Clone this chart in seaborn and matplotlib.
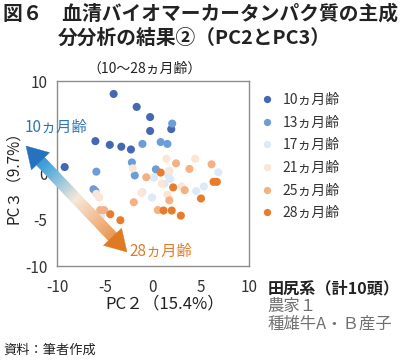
import numpy as np
import pandas as pd
import matplotlib
matplotlib.use("Agg")
import matplotlib.pyplot as plt
from matplotlib.patches import Polygon
import matplotlib.colors as mcolors
import seaborn as sns

# ---- data ----
ages = ["10ヵ月齢", "13ヵ月齢", "17ヵ月齢", "21ヵ月齢", "25ヵ月齢", "28ヵ月齢"]
age10_x = [-4.1, -1.7, -0.3, -0.3, 1.9, -6.0, -4.5, -3.3, -2.3, -9.2]
age10_y = [8.6, 7.2, 6.1, 4.6, 4.8, 3.5, 3.1, 2.9, 2.6, 0.7]
age13_x = [2.0, -1.1, 0.8, 1.5, -2.2, -1.9, -5.9, -6.2, 0.3, -6.0]
age13_y = [5.4, 3.2, 3.4, 3.2, 1.2, -0.2, 0.2, -1.7, 0.45, -1.9]
age17_x = [6.8, 0.1, 1.8, 1.2, -0.1, 5.3, 4.5, -5.4, -1.1, 1.6]
age17_y = [0.13, -0.45, -0.6, -1.1, -2.6, -1.4, -1.9, -4.6, -2.0, -0.2]
age21_x = [-5.9, -2.1, 1.4, -1.2, 4.4, 1.5, -5.6, 0.9, 1.7, 3.0]
age21_y = [-2.2, 0.56, 1.6, -2.1, 1.6, -2.3, -2.6, -1.1, 0.3, -1.4]
age25_x = [3.8, 6.1, -0.7, 2.4, 3.3, -2.0, 1.7, 0.5, -5.5, -5.1]
age25_y = [0.5, 1.0, -0.4, 1.1, -1.8, -3.1, -2.9, -3.95, -3.95, -3.95]
age28_x = [0.8, 2.1, 5.0, 6.3, 6.65, 1.1, 1.95, 2.9, -4.45, -3.4]
age28_y = [0.1, -1.5, -2.7, -0.9, -0.9, -4.0, -4.0, -4.55, -4.4, -5.05]

x_ticks = [-10, -5, 0, 5, 10]
x_ticklabels = ["-10", "-5", "0", "5", "10"]
y_ticks = [-10, -5, 0, 5, 10]
y_ticklabels = ["-10", "-5", "0", "", "10"]  # "5" is hidden behind the arrow label

xs = [age10_x, age13_x, age17_x, age21_x, age25_x, age28_x]
ys = [age10_y, age13_y, age17_y, age21_y, age25_y, age28_y]
colors = ["#4468B2", "#6C9DD6", "#DCE9F6", "#FBE6D6", "#F3B184", "#E87B2C"]

rows = []
for a, xx, yy in zip(ages, xs, ys):
    for x, y in zip(xx, yy):
        rows.append({"PC2": x, "PC3": y, "age": a})
df = pd.DataFrame(rows)

sns.set_theme(style="white")
plt.rcParams['font.family'] = ['Noto Sans CJK JP', 'DejaVu Sans']

fig = plt.figure(figsize=(4.0, 3.6), dpi=100)
ax = fig.add_axes([0.1425, 0.261, 0.48, 0.514])

sns.scatterplot(data=df, x="PC2", y="PC3", hue="age", hue_order=ages,
                palette=dict(zip(ages, colors)), s=34, linewidth=0,
                ax=ax, legend=True, zorder=3)

ax.set_xlim(-10, 10)
ax.set_ylim(-10, 10)
ax.set_xticks(x_ticks)
ax.set_yticks(y_ticks)
ax.set_xticklabels(x_ticklabels)
ax.set_yticklabels(y_ticklabels)
ax.tick_params(axis="x", length=0, pad=9, labelsize=11, labelcolor="#333333")
ax.tick_params(axis="y", length=0, pad=7, labelsize=11, labelcolor="#333333")
for sp in ax.spines.values():
    sp.set_color("#8C8C8C")
    sp.set_linewidth(1.0)
ax.set_xlabel("PC２（15.4%）", fontsize=12, color="#222222")
ax.xaxis.label.set_verticalalignment("center")
ax.xaxis.set_label_coords(0.5625, -0.202)
ax.set_ylabel("PC３（9.7%）", fontsize=11, color="#222222", labelpad=2)

sns.move_legend(ax, "upper left", bbox_to_anchor=(0.995, 0.965), frameon=False,
                title=None, fontsize=10, labelspacing=0.62, handletextpad=0.1,
                markerscale=0.9, borderaxespad=0)
for t in ax.get_legend().get_texts():
    t.set_color("#333333")

# ---- titles and notes ----
fig.text(0.008, 0.962, "図６　血清バイオマーカータンパク質の主成", fontsize=14.2,
         fontweight="bold", color="#222222", va="center", ha="left")
fig.text(0.145, 0.895, "分分析の結果②（PC2とPC3）", fontsize=14.2,
         fontweight="bold", color="#222222", va="center", ha="left")
fig.text(0.218, 0.81, "（10〜28ヵ月齢）", fontsize=10, color="#222222",
         va="center", ha="left")
fig.text(0.668, 1 - 288 / 360, "田尻系（計10頭）", fontsize=11.6, fontweight="bold",
         color="#222222", va="center", ha="left")
fig.text(0.668, 1 - 306 / 360, "農家１", fontsize=11.8, color="#707070",
         va="center", ha="left")
fig.text(0.668, 1 - 324 / 360, "種雄牛A・Ｂ産子", fontsize=11.8, color="#707070",
         va="center", ha="left")
fig.text(0.008, 0.028, "資料：筆者作成", fontsize=9.5, color="#222222",
         va="center", ha="left")

# ---- gradient double-headed arrow (pixel coordinates -> figure fraction) ----
W, H = 400.0, 360.0
p0 = np.array([26.0, 146.0])   # tip near "10ヵ月齢"
p1 = np.array([127.0, 252.0])  # tip near "28ヵ月齢"
d = p1 - p0
L = np.linalg.norm(d)
u = d / L
n = np.array([-u[1], u[0]])
head_len = 21.0
shaft_w = 5.5
head_w = 12.5
c_start = np.array(mcolors.to_rgb("#2572BE"))
c_mid1 = np.array(mcolors.to_rgb("#45A6DC"))
c_mid2 = np.array(mcolors.to_rgb("#F6E8DA"))
c_mid3 = np.array(mcolors.to_rgb("#F0B07A"))
c_end = np.array(mcolors.to_rgb("#E07A22"))
stops = [(0.0, c_start), (0.2, c_mid1), (0.5, c_mid2), (0.75, c_mid3), (1.0, c_end)]

def col_at(t):
    for (t0, a), (t1, b) in zip(stops[:-1], stops[1:]):
        if t <= t1:
            f = (t - t0) / (t1 - t0)
            return a + (b - a) * f
    return stops[-1][1]

def tofig(p):
    return (p[0] / W, 1 - p[1] / H)

N = 80
s0 = head_len
s1 = L - head_len
for i in range(N):
    a = s0 + (s1 - s0) * i / N
    b = s0 + (s1 - s0) * (i + 1) / N + 0.6
    pa = p0 + u * a
    pb = p0 + u * b
    poly = [pa + n * shaft_w, pb + n * shaft_w, pb - n * shaft_w, pa - n * shaft_w]
    c = col_at((a + b) / 2 / L)
    fig.patches.append(Polygon([tofig(q) for q in poly], closed=True,
                               transform=fig.transFigure, facecolor=c,
                               edgecolor=c, linewidth=0.3, zorder=5))
base0 = p0 + u * head_len
h0 = [p0, base0 + n * head_w, base0 - n * head_w]
fig.patches.append(Polygon([tofig(q) for q in h0], closed=True, transform=fig.transFigure,
                           facecolor=c_start, edgecolor=c_start, linewidth=0.3, zorder=5))
base1 = p1 - u * head_len
h1 = [p1, base1 + n * head_w, base1 - n * head_w]
fig.patches.append(Polygon([tofig(q) for q in h1], closed=True, transform=fig.transFigure,
                           facecolor=c_end, edgecolor=c_end, linewidth=0.3, zorder=5))

fig.text(25 / W, 1 - 127 / H, "10ヵ月齢", fontsize=11, color="#2E75B6",
         va="center", ha="left", zorder=6)
fig.text(129 / W, 1 - 251 / H, "28ヵ月齢", fontsize=11, color="#E07B28",
         va="center", ha="left", zorder=6)

fig.savefig("out.png", dpi=100)
